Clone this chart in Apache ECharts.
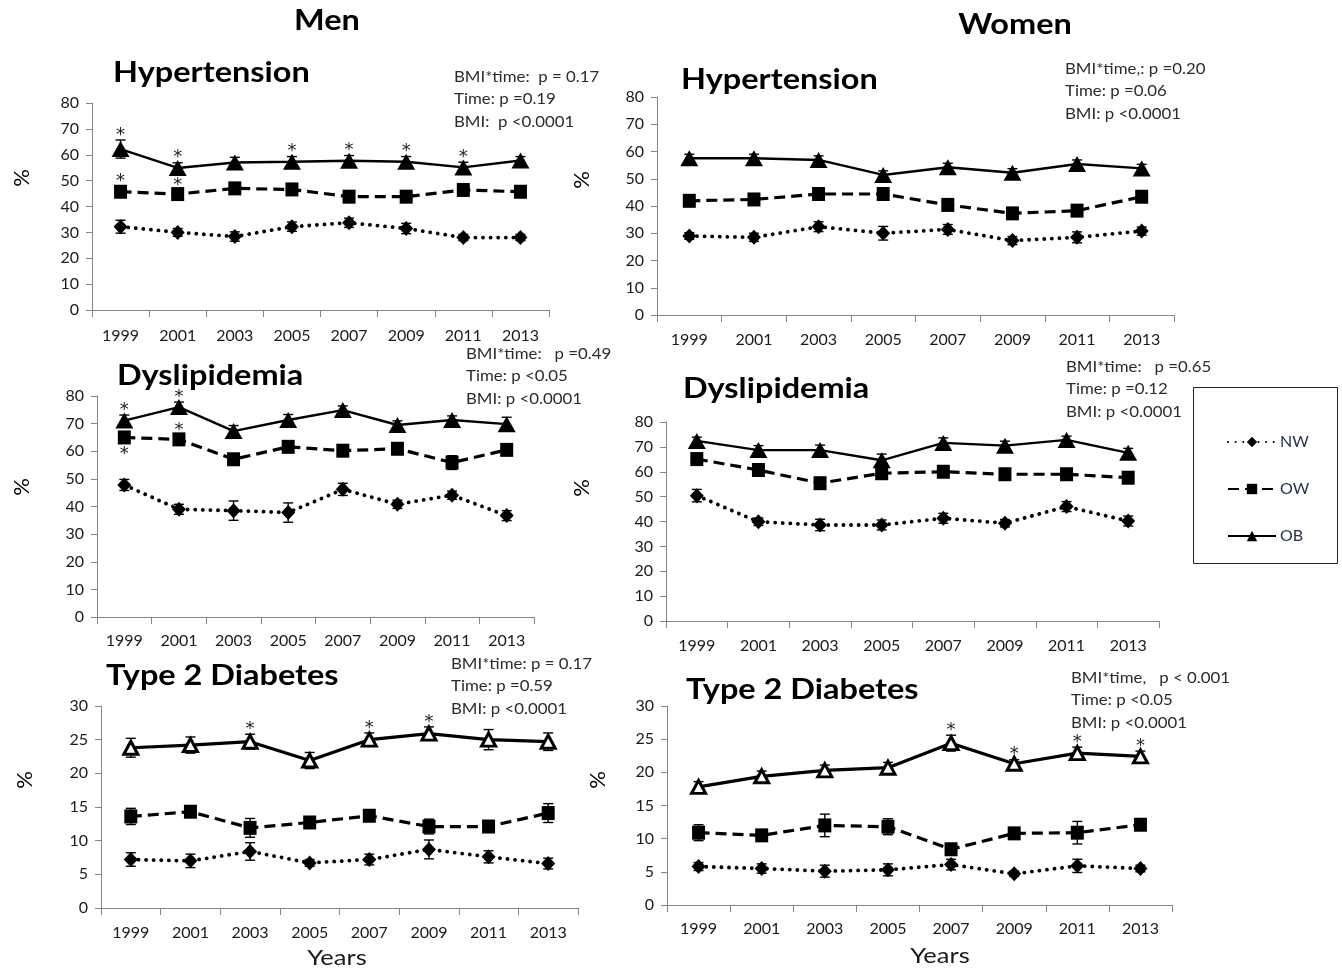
<!DOCTYPE html>
<html>
<head>
<meta charset="utf-8">
<script src="https://cdn.jsdelivr.net/npm/echarts@6/dist/echarts.min.js"></script>
<style>
  html, body { margin: 0; padding: 0; background: #fff; }
  #chart { width: 1342px; height: 970px; }
</style>
</head>
<body>
<div id="chart"></div>
<script>
// Survey years (x categories)
const years = ['1999', '2001', '2003', '2005', '2007', '2009', '2011', '2013'];

// ---- Men: hypertension (%) and error half-widths ----
const menHtnNW = [32.2, 30.0, 28.4, 32.2, 33.7, 31.5, 28.0, 28.0];
const menHtnNWErr = [2.5, 1.5, 1.8, 1.8, 1.8, 2.0, 1.2, 1.2];
const menHtnOW = [45.7, 44.8, 47.0, 46.6, 43.8, 43.8, 46.4, 45.7];
const menHtnOWErr = [2.0, 1.5, 1.5, 1.5, 1.5, 1.5, 1.5, 1.5];
const menHtnOB = [62.2, 54.9, 57.0, 57.3, 57.7, 57.3, 55.1, 57.8];
const menHtnOBErr = [3.5, 2.0, 2.0, 2.0, 2.0, 2.0, 2.0, 1.5];
// significance flags (1 = star above the point, -1 = star below)
const menHtnOWSig = [1, 1, 0, 0, 0, 0, 0, 0];
const menHtnOBSig = [1, 1, 0, 1, 1, 1, 1, 0];

// ---- Women: hypertension ----
const womHtnNW = [29.0, 28.5, 32.4, 30.0, 31.4, 27.3, 28.5, 30.8];
const womHtnNWErr = [1.2, 1.5, 1.8, 2.5, 1.8, 1.5, 2.0, 1.5];
const womHtnOW = [41.9, 42.4, 44.4, 44.4, 40.4, 37.3, 38.3, 43.4];
const womHtnOWErr = [1.5, 1.2, 1.5, 1.5, 1.2, 1.2, 1.5, 1.2];
const womHtnOB = [57.5, 57.5, 56.9, 51.4, 54.2, 52.2, 55.4, 53.8];
const womHtnOBErr = [1.5, 1.5, 1.5, 1.5, 1.5, 1.5, 1.5, 1.5];

// ---- Men: dyslipidemia ----
const menDysNW = [47.8, 39.0, 38.5, 37.8, 46.2, 40.8, 44.1, 36.7];
const menDysNWErr = [2.0, 1.8, 3.5, 3.5, 2.2, 1.5, 1.5, 1.8];
const menDysOW = [65.0, 64.3, 57.1, 61.6, 60.2, 60.9, 55.9, 60.5];
const menDysOWErr = [1.5, 1.5, 1.5, 1.5, 1.5, 1.5, 2.5, 1.5];
const menDysOB = [71.1, 76.0, 67.3, 71.3, 74.9, 69.5, 71.3, 69.8];
const menDysOBErr = [2.0, 1.8, 2.0, 2.0, 1.5, 1.5, 1.5, 2.5];
const menDysOWSig = [-1, 1, 0, 0, 0, 0, 0, 0];
const menDysOBSig = [1, 1, 0, 0, 0, 0, 0, 0];

// ---- Women: dyslipidemia ----
const womDysNW = [50.4, 39.9, 38.6, 38.6, 41.3, 39.3, 46.0, 40.2];
const womDysNWErr = [2.5, 1.5, 2.3, 2.0, 2.0, 1.5, 2.0, 2.0];
const womDysOW = [65.1, 60.7, 55.4, 59.4, 60.0, 59.0, 59.0, 57.6];
const womDysOWErr = [1.5, 1.5, 1.5, 1.5, 1.5, 1.5, 2.0, 1.5];
const womDysOB = [72.4, 68.7, 68.7, 64.6, 71.6, 70.5, 72.8, 67.6];
const womDysOBErr = [1.5, 1.8, 2.0, 2.5, 2.0, 1.8, 1.5, 1.8];

// ---- Men: type 2 diabetes ----
const menDiabNW = [7.2, 7.0, 8.4, 6.7, 7.2, 8.7, 7.6, 6.6];
const menDiabNWErr = [1.0, 1.0, 1.3, 0.5, 0.8, 1.4, 0.9, 0.8];
const menDiabOW = [13.6, 14.3, 11.9, 12.7, 13.7, 12.1, 12.1, 14.1];
const menDiabOWErr = [1.2, 0.6, 1.4, 0.6, 0.5, 1.1, 0.6, 1.4];
const menDiabOB = [23.8, 24.2, 24.7, 21.9, 25.0, 25.9, 25.0, 24.7];
const menDiabOBErr = [1.4, 1.2, 1.1, 1.2, 1.0, 1.0, 1.5, 1.3];
const menDiabOBSig = [0, 0, 1, 0, 1, 1, 0, 0];

// ---- Women: type 2 diabetes ----
const womDiabNW = [5.8, 5.5, 5.1, 5.3, 6.1, 4.7, 5.9, 5.5];
const womDiabNWErr = [0.6, 0.7, 0.9, 0.9, 0.8, 0.4, 1.0, 0.5];
const womDiabOW = [10.9, 10.5, 12.0, 11.8, 8.4, 10.8, 10.9, 12.1];
const womDiabOWErr = [1.2, 0.8, 1.7, 1.2, 0.6, 0.6, 1.7, 0.8];
const womDiabOB = [17.8, 19.4, 20.3, 20.7, 24.4, 21.3, 22.9, 22.4];
const womDiabOBErr = [0.8, 0.8, 0.8, 0.8, 1.2, 0.6, 0.9, 0.8];
const womDiabOBSig = [0, 0, 0, 0, 1, 1, 1, 1];

// Model test results printed beside each panel
const menHtnStats = ['BMI*time:  p = 0.17', 'Time: p =0.19', 'BMI:  p <0.0001'];
const womHtnStats = ['BMI*time,: p =0.20', 'Time: p =0.06', 'BMI: p <0.0001'];
const menDysStats = ['BMI*time:   p =0.49', 'Time: p <0.05', 'BMI: p <0.0001'];
const womDysStats = ['BMI*time:   p =0.65', 'Time: p =0.12', 'BMI: p <0.0001'];
const menDiabStats = ['BMI*time: p = 0.17', 'Time: p =0.59', 'BMI: p <0.0001'];
const womDiabStats = ['BMI*time,   p < 0.001', 'Time: p <0.05', 'BMI: p <0.0001'];

const FONT = 'Lato, "Open Sans", sans-serif';
const WIDEN = 1.16; // horizontal stretch applied to free text

// Panel layout and which arrays feed it
const panels = [
  { title: 'Hypertension', max: 80, interval: 10, hollowOB: false,
    grid: { left: 92, top: 103, width: 457, height: 207 }, labelMargin: 18,
    NW: [menHtnNW, menHtnNWErr], OW: [menHtnOW, menHtnOWErr, menHtnOWSig], OB: [menHtnOB, menHtnOBErr, menHtnOBSig],
    titlePos: [113, 73], stats: menHtnStats, statsPos: [454, 77], pct: [22, 178] },
  { title: 'Hypertension', max: 80, interval: 10, hollowOB: false,
    grid: { left: 657, top: 97, width: 517, height: 218 }, labelMargin: 17,
    NW: [womHtnNW, womHtnNWErr], OW: [womHtnOW, womHtnOWErr], OB: [womHtnOB, womHtnOBErr],
    titlePos: [681, 80], stats: womHtnStats, statsPos: [1065, 69], pct: [582, 180] },
  { title: 'Dyslipidemia', max: 80, interval: 10, hollowOB: false,
    grid: { left: 97, top: 396, width: 437, height: 221 }, labelMargin: 16,
    NW: [menDysNW, menDysNWErr], OW: [menDysOW, menDysOWErr, menDysOWSig], OB: [menDysOB, menDysOBErr, menDysOBSig],
    titlePos: [117, 376], stats: menDysStats, statsPos: [466, 354], pct: [22, 487] },
  { title: 'Dyslipidemia', max: 80, interval: 10, hollowOB: false,
    grid: { left: 666, top: 422, width: 493, height: 199 }, labelMargin: 17,
    NW: [womDysNW, womDysNWErr], OW: [womDysOW, womDysOWErr], OB: [womDysOB, womDysOBErr],
    titlePos: [683, 389], stats: womDysStats, statsPos: [1066, 367], pct: [582, 488] },
  { title: 'Type 2 Diabetes', max: 30, interval: 5, hollowOB: true,
    grid: { left: 101, top: 706, width: 477, height: 202 }, labelMargin: 17,
    NW: [menDiabNW, menDiabNWErr], OW: [menDiabOW, menDiabOWErr], OB: [menDiabOB, menDiabOBErr, menDiabOBSig],
    titlePos: [106, 676], stats: menDiabStats, statsPos: [451, 664], pct: [25, 780] },
  { title: 'Type 2 Diabetes', max: 30, interval: 5, hollowOB: true,
    grid: { left: 667, top: 706, width: 505, height: 199 }, labelMargin: 16,
    NW: [womDiabNW, womDiabNWErr], OW: [womDiabOW, womDiabOWErr], OB: [womDiabOB, womDiabOBErr, womDiabOBSig],
    titlePos: [686, 690], stats: womDiabStats, statsPos: [1071, 678], pct: [598, 780] }
];

// Visual style of the three BMI groups
const groupStyle = {
  NW: { symbol: 'diamond', symbolSize: [14, 15], lineStyle: { type: [0.1, 7.5], width: 3.8, cap: 'round' } },
  OW: { symbol: 'rect', symbolSize: [13, 14], lineStyle: { type: [11, 6], width: 3.2 } },
  OB: { symbol: 'triangle', symbolSize: [18, 16], lineStyle: { type: 'solid', width: 2.4 } }
};

function renderErr(params, api) {
  const i = api.value(0);
  const hi = api.coord([i, api.value(2)]);
  const lo = api.coord([i, api.value(1)]);
  const w = 5;
  const st = { stroke: '#000', lineWidth: 1.4 };
  return {
    type: 'group',
    children: [
      { type: 'line', shape: { x1: hi[0], y1: hi[1], x2: lo[0], y2: lo[1] }, style: st },
      { type: 'line', shape: { x1: hi[0] - w, y1: hi[1], x2: hi[0] + w, y2: hi[1] }, style: st },
      { type: 'line', shape: { x1: lo[0] - w, y1: lo[1], x2: lo[0] + w, y2: lo[1] }, style: st }
    ]
  };
}

// significance star just outside the error bar
function renderStar(params, api) {
  const i = api.value(0);
  const dir = api.value(2);
  const p = api.coord([i, api.value(1)]);
  return {
    type: 'text',
    style: {
      text: '*', x: p[0], y: dir > 0 ? p[1] + 4 : p[1] + 4,
      align: 'center', verticalAlign: dir > 0 ? 'bottom' : 'top',
      font: '18px "DejaVu Sans", sans-serif', fill: '#222'
    }
  };
}

const grids = [], xAxes = [], yAxes = [], series = [], graphics = [];

function freeText(x, y, text, font, align, fill) {
  return {
    type: 'text', x: x, y: y, scaleX: WIDEN,
    style: { text: text, x: 0, y: 0, font: font, fill: fill || '#000', align: align || 'left', verticalAlign: 'middle' }
  };
}

panels.forEach((pn, k) => {
  grids.push(Object.assign({ containLabel: false }, pn.grid));
  xAxes.push({
    type: 'category', gridIndex: k, data: years, boundaryGap: true,
    axisLine: { lineStyle: { color: '#868686', width: 1 } },
    axisTick: { show: true, length: 7, lineStyle: { color: '#868686' } },
    axisLabel: { color: '#1a1a1a', fontSize: 16, fontFamily: FONT, margin: pn.labelMargin, interval: 0 },
    splitLine: { show: false }
  });
  yAxes.push({
    type: 'value', gridIndex: k, min: 0, max: pn.max, interval: pn.interval,
    axisLine: { show: true, lineStyle: { color: '#868686', width: 1 } },
    axisTick: { show: true, length: 6, lineStyle: { color: '#868686' } },
    axisLabel: { color: '#1a1a1a', fontSize: 16, fontFamily: FONT, margin: 13 },
    splitLine: { show: false }
  });

  ['NW', 'OW', 'OB'].forEach(g => {
    const [vals, errs] = pn[g];
    series.push({
      type: 'custom', xAxisIndex: k, yAxisIndex: k, silent: true, z: 2,
      renderItem: renderErr, encode: { x: 0, y: [1, 2] },
      data: vals.map((v, i) => [i, v - errs[i], v + errs[i]])
    });
  });

  ['NW', 'OW', 'OB'].forEach(g => {
    const [vals] = pn[g];
    const st = groupStyle[g];
    const hollow = g === 'OB' && pn.hollowOB;
    series.push({
      name: g, type: 'line', xAxisIndex: k, yAxisIndex: k, z: 3,
      data: vals, symbol: st.symbol, symbolSize: hollow ? [14, 13] : st.symbolSize, showSymbol: true,
      lineStyle: Object.assign({ color: '#000' }, st.lineStyle, hollow ? { width: 3.2 } : {}),
      itemStyle: hollow ? { color: '#fff', borderColor: '#000', borderWidth: 3 } : { color: '#000', borderWidth: 0 },
      emphasis: { disabled: true }, animation: false
    });
  });

  ['OW', 'OB'].forEach(g => {
    const [vals, errs, sig] = pn[g];
    if (!sig) return;
    const pts = [];
    sig.forEach((s, i) => {
      if (s) pts.push([i, s > 0 ? vals[i] + errs[i] : vals[i] - errs[i], s]);
    });
    series.push({
      type: 'custom', xAxisIndex: k, yAxisIndex: k, silent: true, z: 4,
      renderItem: renderStar, encode: { x: 0, y: 1 }, data: pts
    });
  });

  graphics.push(freeText(pn.titlePos[0], pn.titlePos[1], pn.title, 'bold 28px ' + FONT));
  pn.stats.forEach((s, j) => {
    graphics.push(freeText(pn.statsPos[0], pn.statsPos[1] + j * 22.5, s, '14.5px ' + FONT, 'left', '#2b2b2b'));
  });
  graphics.push({
    type: 'text', x: pn.pct[0], y: pn.pct[1], rotation: Math.PI / 2,
    style: { text: '%', font: '22px ' + FONT, fill: '#000', align: 'center', verticalAlign: 'middle' }
  });
});

// Column headings and x-axis titles
graphics.push(
  freeText(327, 21, 'Men', 'bold 28px ' + FONT, 'center'),
  freeText(1015, 25, 'Women', 'bold 28px ' + FONT, 'center'),
  freeText(337, 958, 'Years', '22px ' + FONT, 'center', '#1a1a1a'),
  freeText(940, 956, 'Years', '22px ' + FONT, 'center', '#1a1a1a'),
  // legend frame
  { type: 'rect', shape: { x: 1193.5, y: 387.5, width: 144, height: 176 }, style: { fill: 'none', stroke: '#222', lineWidth: 1 }, z: 0 }
);

const chart = echarts.init(document.getElementById('chart'), null, { renderer: 'canvas' });
chart.setOption({
  animation: false,
  backgroundColor: '#fff',
  grid: grids,
  xAxis: xAxes,
  yAxis: yAxes,
  series: series,
  graphic: graphics,
  legend: {
    data: ['NW', 'OW', 'OB'],
    orient: 'vertical', left: 1222, top: 429,
    itemWidth: 48, itemHeight: 13, itemGap: 31,
    textStyle: { color: '#263248', fontSize: 16, fontFamily: FONT, padding: [0, 0, 0, -1] },
    selectedMode: false
  }
});
</script>
</body>
</html>
